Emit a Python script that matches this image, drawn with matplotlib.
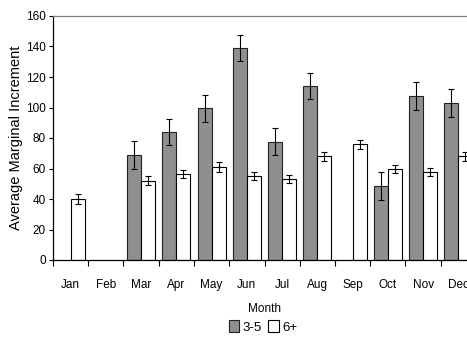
import numpy as np
import matplotlib
matplotlib.use("Agg")
import matplotlib.pyplot as plt
from matplotlib.patches import Patch

plt.rcParams['font.family'] = ['Liberation Sans', 'DejaVu Sans']
plt.rcParams['font.size'] = 8.5

months = ["Jan", "Feb", "Mar", "Apr", "May", "Jun", "Jul", "Aug", "Sep", "Oct", "Nov", "Dec"]
nan = np.nan
age_3_5 = [nan, nan, 69, 84, 99.5, 139, 77.6, 114.3, nan, 48.5, 107.5, 103]
err_3_5 = [nan, nan, 9, 8.7, 9, 8.7, 9, 8.5, nan, 9, 9, 9]
age_6p = [40, nan, 52, 56.5, 61, 55.3, 53, 68, 76, 59.5, 58, 68]
err_6p = [3, nan, 3, 2.7, 3, 2.7, 2.7, 3, 3, 2.7, 2.6, 3]

W, H = 467, 338
fig = plt.figure(figsize=(W / 100, H / 100), dpi=100)
ax = fig.add_axes([53 / W, (H - 260) / H, (476 - 53) / W, 244 / H])

x = np.arange(len(months))
bw = 0.4
err_kw = dict(ecolor="black", elinewidth=0.8, capsize=2.4, capthick=0.8)
ax.bar(x - bw / 2, age_3_5, bw, yerr=err_3_5, color="#8f8f8f",
       edgecolor="#222222", linewidth=0.8, error_kw=err_kw, label="3-5")
ax.bar(x + bw / 2, age_6p, bw, yerr=err_6p, color="white",
       edgecolor="black", linewidth=0.8, error_kw=err_kw, label="6+")

ax.set_xlim(-0.5, len(months) - 0.5)
ax.set_ylim(0, 160)
ax.set_yticks(np.arange(0, 161, 20))
ax.set_xticks(x)
ax.set_xticklabels(months)
ax.set_xticks(np.arange(-0.5, len(months), 1), minor=True)
ax.tick_params(axis="x", which="major", length=0, pad=14)
ax.tick_params(axis="x", which="minor", length=4, width=0.8, direction="out")
ax.tick_params(axis="y", length=3, width=0.8, direction="out", pad=2)

for s in ("left", "bottom"):
    ax.spines[s].set_color("black")
    ax.spines[s].set_linewidth(0.9)
for s in ("top", "right"):
    ax.spines[s].set_color("#808080")
    ax.spines[s].set_linewidth(0.9)

ax.set_ylabel("Average Marginal Increment", fontsize=10.5, labelpad=2)
ax.set_xlabel("Month", labelpad=8)

handles = [Patch(facecolor="#8f8f8f", edgecolor="#222222", linewidth=0.8, label="3-5"),
           Patch(facecolor="white", edgecolor="black", linewidth=0.8, label="6+")]
fig.legend(handles=handles, loc="center", bbox_to_anchor=(263 / W, 1 - 327 / H),
           ncol=2, frameon=False, handlelength=0.8, handleheight=1.0,
           handletextpad=0.25, columnspacing=0.5, borderpad=0, fontsize=9.5)

fig.savefig("out.png", dpi=100)
